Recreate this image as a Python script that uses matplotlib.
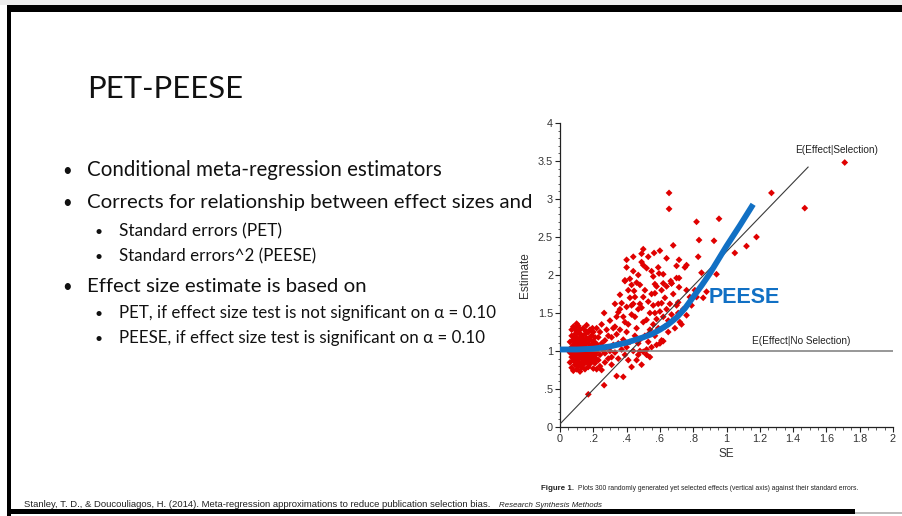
import matplotlib
matplotlib.use("Agg")
import matplotlib.pyplot as plt
from matplotlib.patches import Rectangle
from matplotlib.ticker import MultipleLocator

# ---- data -------------------------------------------------------------
# selected effect estimates and their standard errors (300 studies)
se_low = [0.06, 0.06, 0.06, 0.07, 0.07, 0.07, 0.07, 0.07, 0.08, 0.08, 0.08, 0.08, 0.08, 0.08, 0.08,
          0.09, 0.09, 0.09, 0.09, 0.09, 0.09, 0.09, 0.10, 0.10, 0.10, 0.10, 0.10, 0.10, 0.10, 0.10,
          0.11, 0.11, 0.11, 0.11, 0.11, 0.11, 0.11, 0.12, 0.12, 0.12, 0.12, 0.12, 0.12, 0.12,
          0.13, 0.13, 0.13, 0.13, 0.13, 0.13, 0.14, 0.14, 0.14, 0.14, 0.14, 0.14,
          0.15, 0.15, 0.15, 0.15, 0.15, 0.16, 0.16, 0.16, 0.16, 0.16,
          0.17, 0.17, 0.17, 0.17, 0.17, 0.18, 0.18, 0.18, 0.18, 0.18,
          0.19, 0.19, 0.19, 0.19, 0.20, 0.20, 0.20, 0.20, 0.20,
          0.21, 0.21, 0.21, 0.21, 0.22, 0.22, 0.22, 0.22, 0.22,
          0.065, 0.075, 0.085, 0.095, 0.105, 0.115, 0.125, 0.135, 0.145, 0.155, 0.165, 0.175,
          0.185, 0.195, 0.205, 0.215, 0.125, 0.095, 0.155, 0.185, 0.17]
est_low = [0.98, 1.12, 0.85, 1.05, 0.92, 1.20, 0.78, 1.28, 1.00, 0.88, 1.15, 0.95, 1.32, 0.74, 1.08,
           1.02, 0.90, 1.22, 0.82, 1.12, 0.97, 1.30, 1.05, 0.93, 1.18, 0.86, 1.36, 0.76, 1.00, 1.26,
           0.98, 1.10, 0.89, 1.24, 0.80, 1.03, 1.33, 1.07, 0.94, 1.16, 0.84, 1.00, 1.28, 0.73,
           1.02, 0.91, 1.20, 0.78, 1.12, 0.97, 1.06, 0.87, 1.15, 0.95, 1.30, 0.82,
           1.00, 1.22, 0.90, 1.09, 0.76, 1.04, 0.93, 1.17, 0.85, 1.34,
           0.98, 1.10, 0.88, 1.25, 0.79, 1.02, 0.92, 1.15, 0.83, 1.28,
           0.97, 1.08, 0.87, 1.20, 1.00, 0.90, 1.13, 0.77, 1.25,
           1.05, 0.94, 0.84, 1.18, 0.99, 1.09, 0.89, 1.30, 0.76,
           1.02, 0.96, 1.18, 0.86, 1.12, 0.94, 1.22, 1.00, 0.90, 1.14, 0.97, 1.04,
           0.90, 1.30, 0.96, 1.10, 0.83, 1.14, 1.26, 1.19, 0.43]

se_mid = [0.23, 0.23, 0.23, 0.24, 0.24, 0.24, 0.25, 0.25, 0.25, 0.26, 0.265, 0.265, 0.27, 0.27, 0.27,
          0.28, 0.28, 0.29, 0.29, 0.30, 0.30, 0.31, 0.31, 0.31, 0.32, 0.32, 0.33, 0.33, 0.34, 0.34,
          0.35, 0.35, 0.35, 0.36, 0.36, 0.37, 0.37, 0.38, 0.38, 0.38, 0.39, 0.39, 0.39, 0.40, 0.40,
          0.40, 0.41, 0.41, 0.42, 0.42, 0.43, 0.43, 0.43, 0.44, 0.445, 0.45, 0.45, 0.45,
          0.33, 0.34, 0.36, 0.41, 0.44, 0.42, 0.46, 0.47, 0.44, 0.43]
est_mid = [1.05, 0.88, 1.18, 1.25, 0.95, 0.80, 1.10, 1.35, 0.75, 1.00, 1.50, 0.55, 1.14, 0.97, 0.85,
           1.28, 1.05, 0.90, 1.20, 1.40, 1.00, 1.18, 0.92, 0.82, 1.30, 1.08, 1.32, 0.98, 0.67, 1.22,
           1.51, 1.10, 0.90, 1.74, 1.28, 1.63, 1.02, 0.66, 1.45, 1.15, 1.38, 1.93, 0.95, 1.25, 1.58,
           1.05, 0.88, 1.35, 1.70, 1.12, 1.87, 0.79, 1.48, 1.00, 1.79, 1.45, 1.71, 1.20,
           1.62, 1.45, 1.55, 1.80, 1.62, 1.95, 1.90, 2.00, 2.05, 1.60]

se_high = [0.39, 0.40, 0.40, 0.44, 0.48, 0.49, 0.49, 0.50, 0.50, 0.52, 0.53, 0.55, 0.56, 0.565, 0.57,
           0.59, 0.595, 0.60, 0.62, 0.62, 0.64, 0.655, 0.655, 0.665, 0.67, 0.68, 0.70, 0.715, 0.715,
           0.75, 0.76, 0.82, 0.83, 0.835, 0.85, 0.925, 0.94, 0.955, 1.05, 1.12, 1.18, 1.27, 1.47, 1.71,
           0.46, 0.46, 0.47, 0.47, 0.48, 0.48, 0.49, 0.49, 0.50, 0.50, 0.50, 0.51, 0.51, 0.52, 0.52,
           0.53, 0.53, 0.54, 0.54, 0.55, 0.55, 0.56, 0.56, 0.57, 0.57, 0.57, 0.58, 0.58, 0.59, 0.59,
           0.60, 0.60, 0.61, 0.61, 0.61, 0.62, 0.62, 0.63, 0.63, 0.64, 0.64, 0.65, 0.65, 0.66, 0.67,
           0.67, 0.68, 0.68, 0.69, 0.70, 0.70, 0.71, 0.71, 0.715, 0.72, 0.73, 0.74, 0.76, 0.76, 0.78,
           0.79, 0.81, 0.82, 0.86, 0.88, 0.47, 0.52, 0.54, 0.58, 0.53, 0.48]
est_high = [1.92, 2.20, 2.10, 2.24, 1.87, 2.28, 2.17, 2.34, 2.13, 2.09, 2.24, 2.05, 1.98, 2.29, 1.88,
            2.10, 2.02, 2.32, 2.01, 1.89, 2.22, 3.08, 2.87, 1.92, 1.89, 2.39, 2.12, 2.20, 1.96,
            2.10, 2.13, 2.70, 2.24, 2.46, 2.03, 2.45, 2.01, 2.74, 2.29, 2.38, 2.50, 3.08, 2.88, 3.48,
            0.88, 1.30, 1.55, 1.10, 1.62, 1.00, 1.57, 0.82, 1.71, 0.99, 1.38, 1.20, 1.80, 1.41, 0.95,
            1.65, 1.12, 1.50, 1.28, 1.05, 1.75, 1.35, 1.60, 1.50, 1.76, 1.20, 1.42, 1.85, 1.30, 1.62,
            1.52, 1.10, 1.63, 1.80, 1.14, 1.13, 1.45, 1.32, 1.70, 1.55, 1.85, 1.40, 1.25, 1.62, 1.89,
            1.48, 1.41, 1.75, 1.30, 1.60, 1.96, 1.64, 1.50, 1.84, 1.38, 1.35, 1.55, 1.47, 1.80, 1.71,
            1.60, 1.80, 1.71, 1.70, 1.78, 0.95, 1.02, 0.92, 1.08, 1.22, 1.15]

# PEESE fit traced along the standard error axis
peese_se = [0.0, 0.1, 0.2, 0.3, 0.4, 0.5, 0.55, 0.6, 0.65, 0.7, 0.75, 0.8, 0.85, 0.9, 0.95, 1.0, 1.08, 1.16]
peese_est = [1.02, 1.02, 1.03, 1.06, 1.11, 1.18, 1.22, 1.28, 1.35, 1.44, 1.56, 1.71, 1.86, 2.02, 2.20, 2.38, 2.65, 2.93]

# expected effect with and without selection
sel_se = [0.0, 1.49]
sel_est = [0.04, 3.42]
nosel_se = [0.0, 2.0]
nosel_est = [1.0, 1.0]

xticks = [0, 0.2, 0.4, 0.6, 0.8, 1.0, 1.2, 1.4, 1.6, 1.8, 2.0]
xtick_labels = ["0", ".2", ".4", ".6", ".8", "1", "1.2", "1.4", "1.6", "1.8", "2"]
yticks = [0, 0.5, 1.0, 1.5, 2.0, 2.5, 3.0, 3.5, 4.0]
ytick_labels = ["0", ".5", "1", "1.5", "2", "2.5", "3", "3.5", "4"]

title = "PET-PEESE"
bullets = [
    (0, "Conditional meta-regression estimators"),
    (0, "Corrects for relationship between effect sizes and"),
    (1, "Standard errors (PET)"),
    (1, "Standard errors^2 (PEESE)"),
    (0, "Effect size estimate is based on"),
    (1, "PET, if effect size test is not significant on \u03b1 = 0.10"),
    (1, "PEESE, if effect size test is significant on \u03b1 = 0.10"),
]

# ---- figure -----------------------------------------------------------
W, H = 902, 516
fig = plt.figure(figsize=(W / 100, H / 100), dpi=100)
fig.patch.set_facecolor("white")

# full-canvas axes in pixel units for the slide frame and text
bg = fig.add_axes([0, 0, 1, 1])
bg.set_xlim(0, W)
bg.set_ylim(H, 0)
bg.axis("off")
bg.set_zorder(0)

bg.add_patch(Rectangle((0, 0), W, 5, color="#ededed", lw=0))
bg.add_patch(Rectangle((7, 5), W - 7, 7, color="black", lw=0))
bg.add_patch(Rectangle((7, 5), 4, H - 5, color="black", lw=0))
bg.add_patch(Rectangle((7, 509), 848, 5, color="black", lw=0))
bg.add_patch(Rectangle((855, 512), W - 855, 1.5, color="#bdbdbd", lw=0))

fig.canvas.draw()
renderer = fig.canvas.get_renderer()


def fit_text(x, y, s, width, **kw):
    t = bg.text(x, y, s, **kw)
    w = t.get_window_extent(renderer).width
    t.set_fontsize(t.get_fontsize() * width / w)
    return t


slide_font = ["Lato", "DejaVu Sans"]
fit_text(87, 98, title, 155, fontsize=28, family=slide_font, color="#111111", va="baseline")

bullet_rows = [176, 208, 236, 261, 292, 318, 343]
bullet_ends = [443, 533, 282, 315, 367, 494, 483]
for (level, text), yb, xe in zip(bullets, bullet_rows, bullet_ends):
    x0 = 87 if level == 0 else 119
    xb = 62 if level == 0 else 94
    fs = 15 if level == 0 else 12.5
    fit_text(x0, yb, text, xe - x0, fontsize=fs, family=slide_font, color="#111111", va="baseline")
    bg.text(xb, yb, "\u2022", fontsize=fs * 0.8, family=slide_font, color="#111111", va="baseline")

# small caption and reference lines
small = dict(family=["Liberation Sans", "DejaVu Sans"], color="#222222", va="baseline")
cap = fit_text(578, 490, "Plots 300 randomly generated yet selected effects (vertical axis) against their standard errors.",
               282, fontsize=7, **small)
bg.text(574, 490, "Figure 1.", fontsize=cap.get_fontsize() * 1.15, weight="bold", ha="right", **small)
fit_text(24, 507, "Stanley, T. D., & Doucouliagos, H. (2014). Meta-regression approximations to reduce publication selection bias.",
         472, fontsize=6, **small)
fit_text(499, 507, "Research Synthesis Methods", 103, fontsize=6, style="italic", **small)

# ---- scatter chart ----------------------------------------------------
left, right, top, bottom = 560, 893, 123, 427
ax = fig.add_axes([left / W, 1 - bottom / H, (right - left) / W, (bottom - top) / H])
ax.set_zorder(1)
ax.set_facecolor("none")
ax.set_xlim(0, 2)
ax.set_ylim(0, 4)

red = "#e00000"
for xs, ys in ((se_low, est_low), (se_mid, est_mid), (se_high, est_high)):
    ax.scatter(xs, ys, s=12, marker="D", color=red, edgecolors="none", zorder=2)

ax.plot(nosel_se, nosel_est, color="#7a7a7a", lw=1.1, zorder=3)
ax.plot(sel_se, sel_est, color="#3a3a3a", lw=0.8, zorder=3)
ax.plot(peese_se, peese_est, color="#1170c4", lw=4.2, solid_capstyle="butt", zorder=4)

chart_font = ["Liberation Sans", "DejaVu Sans"]
ax.text(1.66, 3.64, "E(Effect|Selection)", ha="center", va="center", fontsize=7.2,
        family=chart_font, color="#222222")
ax.text(1.45, 1.13, "E(Effect|No Selection)", ha="center", va="center", fontsize=7.2,
        family=chart_font, color="#222222")
ax.text(0.89, 1.70, "PEESE", ha="left", va="center", fontsize=15.5, weight="bold",
        family=chart_font, color="#1170c4", zorder=5)

for side in ("top", "right"):
    ax.spines[side].set_visible(False)
for side in ("left", "bottom"):
    ax.spines[side].set_color("#222222")
    ax.spines[side].set_linewidth(0.9)

ax.set_xticks(xticks)
ax.set_xticklabels(xtick_labels)
ax.set_yticks(yticks)
ax.set_yticklabels(ytick_labels)
ax.xaxis.set_minor_locator(MultipleLocator(0.05))
ax.yaxis.set_minor_locator(MultipleLocator(0.1))
ax.tick_params(which="major", direction="out", length=3.5, width=0.8, color="#222222",
               labelsize=7.8, labelcolor="#333333", pad=1.5)
ax.tick_params(which="minor", direction="out", length=1.8, width=0.6, color="#444444")
for lab in ax.get_xticklabels() + ax.get_yticklabels():
    lab.set_family(chart_font)

ax.set_xlabel("SE", fontsize=8.5, family=chart_font, color="#333333", labelpad=3)
ax.set_ylabel("Estimate", fontsize=8.5, family=chart_font, color="#333333", labelpad=5)

fig.savefig("out.png", dpi=100)
